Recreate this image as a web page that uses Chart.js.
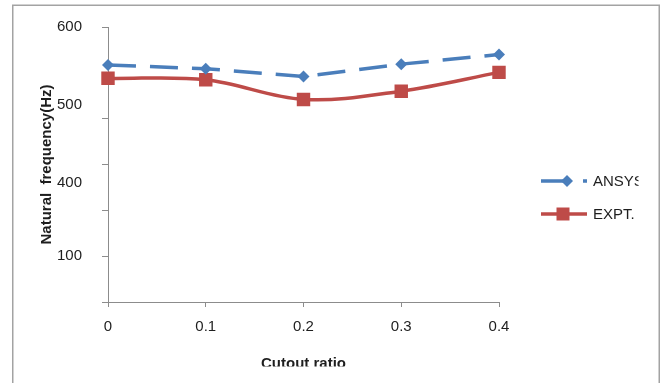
<!DOCTYPE html>
<html>
<head>
<meta charset="utf-8">
<script src="https://cdn.jsdelivr.net/npm/chart.js@4/dist/chart.umd.min.js"></script>
<style>
  html, body { margin: 0; padding: 0; background: #ffffff; }
  #wrap { width: 661px; height: 383px; position: relative; }
</style>
</head>
<body>
<div id="wrap"><canvas id="c" width="661" height="383"></canvas></div>
<script>
// Natural frequency vs cutout ratio
const cutoutRatios = ['0', '0.1', '0.2', '0.3', '0.4'];
const ansysHz = [517, 509, 492, 519, 540];
const exptHz  = [488, 485, 442, 460, 501];

// Y axis: tick marks and the printed tick labels
const yTickMarks   = [0, 100, 200, 300, 400, 600];
const yTickLabels  = ['100', '400', '500', '600'];
const yTickLabelAt = [100, 260, 430, 600];

const seriesNames = ['ANSYS', 'EXPT.'];
const BLUE = '#4a7ebb';
const RED = '#be4b48';
const AXIS = '#8c8c8c';
const TEXT = '#1e1e1e';
const FONT = "'Liberation Sans', Arial, sans-serif";

// Clip everything below the bottom crop line, then draw frame and legend
const framePlugin = {
  id: 'frameAndLegend',
  beforeDraw(chart) {
    const ctx = chart.ctx;
    ctx.save();
    ctx.beginPath();
    ctx.rect(0, 0, chart.width, 366.5);
    ctx.clip();
  },
  afterDraw(chart) {
    const ctx = chart.ctx;
    ctx.restore();

    // outer frame (no bottom edge)
    ctx.save();
    ctx.strokeStyle = '#a3a3a3';
    ctx.lineWidth = 1.5;
    ctx.beginPath();
    ctx.moveTo(12.75, chart.height);
    ctx.lineTo(12.75, 5.25);
    ctx.lineTo(659.25, 5.25);
    ctx.lineTo(659.25, chart.height);
    ctx.stroke();
    ctx.restore();

    // legend
    const entries = [
      { name: seriesNames[0], color: BLUE, dash: [28, 14], marker: 'diamond', y: 181, mx: 567 },
      { name: seriesNames[1], color: RED, dash: [], marker: 'square', y: 214, mx: 563 }
    ];
    entries.forEach(e => {
      ctx.save();
      ctx.strokeStyle = e.color;
      ctx.lineWidth = 3.5;
      ctx.setLineDash(e.dash);
      ctx.beginPath();
      ctx.moveTo(541, e.y);
      ctx.lineTo(587, e.y);
      ctx.stroke();
      ctx.setLineDash([]);
      ctx.fillStyle = e.color;
      ctx.beginPath();
      if (e.marker === 'diamond') {
        const r = 6;
        ctx.moveTo(e.mx - r, e.y);
        ctx.lineTo(e.mx, e.y - r);
        ctx.lineTo(e.mx + r, e.y);
        ctx.lineTo(e.mx, e.y + r);
        ctx.closePath();
      } else {
        ctx.rect(e.mx - 6.5, e.y - 6.5, 13, 13);
      }
      ctx.fill();
      ctx.beginPath();
      ctx.rect(0, 0, 638.5, chart.height);
      ctx.clip();
      ctx.fillStyle = TEXT;
      ctx.font = '15px ' + FONT;
      ctx.textBaseline = 'middle';
      ctx.textAlign = 'left';
      ctx.fillText(e.name, 593, e.y + 1);
      ctx.restore();
    });
  }
};

new Chart(document.getElementById('c'), {
  type: 'line',
  data: {
    labels: cutoutRatios,
    datasets: [
      {
        label: seriesNames[0],
        data: ansysHz,
        borderColor: BLUE,
        backgroundColor: BLUE,
        borderWidth: 3.5,
        borderDash: [28, 14],
        tension: 0,
        pointStyle: 'rectRot',
        pointRadius: 6,
        pointBorderWidth: 0,
        pointHoverRadius: 6,
        fill: false
      },
      {
        label: seriesNames[1],
        data: exptHz,
        borderColor: RED,
        backgroundColor: RED,
        borderWidth: 3.5,
        tension: 0.35,
        pointStyle: 'rect',
        pointRadius: 9.5,
        pointBorderWidth: 0,
        pointHoverRadius: 9.5,
        fill: false
      }
    ]
  },
  options: {
    responsive: false,
    animation: false,
    devicePixelRatio: 1,
    layout: { padding: { top: 27, right: 162, bottom: 0, left: 0 } },
    plugins: {
      legend: { display: false },
      tooltip: { enabled: false }
    },
    scales: {
      x: {
        type: 'category',
        offset: false,
        grid: { drawOnChartArea: false, drawTicks: true, tickLength: 5, color: AXIS, lineWidth: 1 },
        border: { color: AXIS, width: 1 },
        ticks: { color: TEXT, font: { family: FONT, size: 15 }, padding: 11, autoSkip: false, maxRotation: 0 },
        title: {
          display: true,
          text: 'Cutout ratio',
          color: TEXT,
          font: { family: FONT, size: 15, weight: 'bold' },
          padding: { top: 0, bottom: 10 }
        },
        afterFit(scale) { scale.height = 81; }
      },
      y: {
        type: 'linear',
        position: 'left',
        weight: 0,
        min: 0,
        max: 600,
        afterBuildTicks(scale) { scale.ticks = yTickMarks.map(v => ({ value: v })); },
        grid: { drawOnChartArea: false, drawTicks: true, tickLength: 6, color: AXIS, lineWidth: 1 },
        border: { color: AXIS, width: 1 },
        ticks: { display: false },
        afterFit(scale) { scale.width = 10; }
      },
      yLabels: {
        type: 'linear',
        position: 'left',
        weight: 1,
        min: 0,
        max: 600,
        afterBuildTicks(scale) { scale.ticks = yTickLabelAt.map(v => ({ value: v })); },
        grid: { display: false },
        border: { display: false },
        ticks: {
          color: TEXT,
          font: { family: FONT, size: 15 },
          padding: 8,
          autoSkip: false,
          callback: (v, i) => yTickLabels[i]
        },
        title: {
          display: true,
          text: 'Natural  frequency(Hz)',
          color: TEXT,
          font: { family: FONT, size: 15, weight: 'bold' },
          padding: { top: 38, bottom: 0 }
        },
        afterFit(scale) { scale.width = 98; }
      }
    }
  },
  plugins: [framePlugin]
});
</script>
</body>
</html>
